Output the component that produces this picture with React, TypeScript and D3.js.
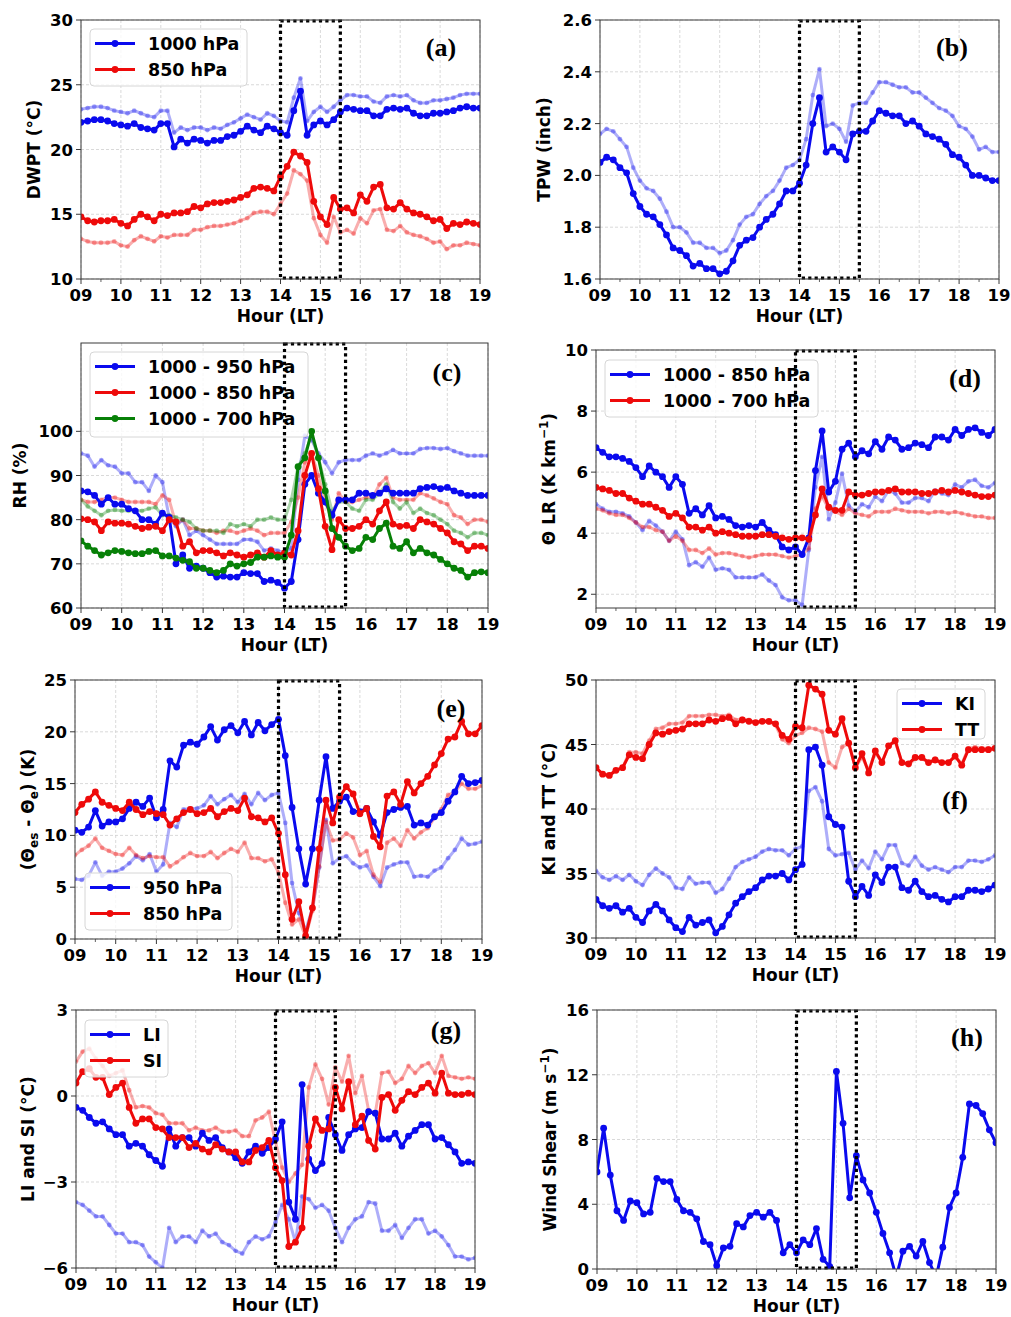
import React from 'react';
import * as d3 from 'd3';

const FONT = '"DejaVu Sans", Verdana, sans-serif';
const SERIF = '"Liberation Serif", "Times New Roman", serif';
const BLUE = '#0a0aee';
const RED = '#ee0a0a';
const GREEN = '#078007';

// time axis: 09:00 .. 19:00 every 10 minutes
const hours = d3.range(61).map(i => 9 + i / 6);
const hourTicks = [9, 10, 11, 12, 13, 14, 15, 16, 17, 18, 19];
const halfTicks = [9.5, 10.5, 11.5, 12.5, 13.5, 14.5, 15.5, 16.5, 17.5, 18.5];

// (a) DWPT
const dwpt1000 = [22.1,22.2,22.3,22.3,22.2,22.0, 21.9,21.8,22.0,21.7,21.6,21.5, 22.0,22.0,20.2,20.8,20.5,20.8, 20.7,20.5,20.7,20.7,21.0,21.1, 21.4,21.8,21.5,21.3,21.8,21.6, 21.3,21.1,23.0,24.5,21.1,21.9, 22.2,21.9,22.3,22.9,23.2,23.1, 23.0,23.0,22.6,22.6,23.1,23.2, 23.1,23.2,22.8,22.6,22.6,22.8, 22.8,22.9,23.0,23.2,23.3,23.2, 23.2];
const dwpt1000F = [23.1,23.2,23.3,23.3,23.2,23.0, 22.9,22.8,23.0,22.8,22.6,22.5, 23.0,23.0,21.3,21.7,21.5,21.7, 21.7,21.5,21.7,21.6,21.9,22.1, 22.4,22.7,22.5,22.3,22.8,22.6, 22.2,22.1,24.0,25.5,22.2,22.9, 23.3,22.9,23.3,23.8,24.2,24.2, 24.1,24.1,23.7,23.6,24.1,24.2, 24.1,24.2,23.8,23.6,23.6,23.8, 23.8,23.9,24.0,24.2,24.3,24.3, 24.3];
const dwpt850 = [14.8,14.5,14.4,14.5,14.5,14.6, 14.3,14.1,14.6,15.0,14.8,14.5, 15.0,14.9,15.1,15.1,15.2,15.6, 15.5,15.8,15.9,15.9,16.0,16.1, 16.3,16.5,17.0,17.1,17.0,16.8, 17.9,18.7,19.8,19.5,19.0,16.0, 14.8,14.2,16.3,15.4,15.5,15.1, 16.5,16.0,17.1,17.3,15.5,15.4, 15.9,15.4,15.1,15.0,14.8,14.5, 14.6,13.9,14.3,14.2,14.4,14.3, 14.2];
const dwpt850F = [13.1,12.9,12.8,12.8,12.8,12.9, 12.6,12.5,13.0,13.3,13.1,12.9, 13.3,13.2,13.4,13.4,13.4,13.8, 13.8,14.0,14.1,14.1,14.2,14.3, 14.5,14.7,15.1,15.2,15.2,15.0, 15.8,16.6,18.4,18.1,17.6,14.7, 13.4,12.8,14.8,13.6,13.8,13.5, 14.7,14.3,15.3,15.4,13.8,13.7, 14.1,13.6,13.4,13.3,13.1,12.8, 12.9,12.3,12.6,12.6,12.8,12.7, 12.6];

// (b) TPW
const tpw = [2.05,2.07,2.06,2.03,2.01,1.93, 1.88,1.85,1.84,1.81,1.77,1.72, 1.71,1.69,1.65,1.66,1.64,1.64, 1.62,1.63,1.67,1.73,1.75,1.76, 1.80,1.83,1.85,1.89,1.94,1.94, 1.97,2.04,2.20,2.30,2.09,2.11, 2.09,2.06,2.16,2.17,2.17,2.21, 2.25,2.24,2.23,2.23,2.20,2.21, 2.19,2.16,2.15,2.14,2.12,2.08, 2.07,2.04,2.00,2.00,1.99,1.98, 1.98];
const tpwF = [2.16,2.18,2.17,2.14,2.11,2.03, 1.98,1.95,1.94,1.91,1.86,1.80, 1.80,1.78,1.74,1.74,1.72,1.72, 1.70,1.71,1.75,1.81,1.84,1.85, 1.89,1.92,1.94,1.98,2.03,2.04, 2.06,2.14,2.31,2.41,2.19,2.20, 2.18,2.13,2.27,2.28,2.28,2.32, 2.36,2.36,2.35,2.34,2.34,2.32, 2.32,2.30,2.28,2.26,2.25,2.23, 2.19,2.18,2.15,2.10,2.11,2.09, 2.09];

// (c) RH
const rh950 = [86.5,86.3,85.5,83.5,85.0,83.5, 83.5,82.5,82.0,80.0,80.0,79.0, 81.5,80.5,70.0,72.0,69.0,69.5, 69.0,68.0,67.0,67.2,67.0,67.0, 68.0,67.8,67.8,66.0,66.3,65.8, 64.5,66.0,75.5,88.0,90.0,86.0, 84.0,81.0,84.5,84.5,84.5,86.0, 86.0,85.5,86.0,87.0,86.0,86.0, 86.0,86.0,87.0,87.3,87.5,87.0, 87.3,86.5,86.0,85.5,85.5,85.5, 85.5];
const rh850 = [80.2,80.0,79.5,77.5,79.5,79.2, 79.2,79.0,78.5,78.0,78.3,78.5, 77.5,80.0,79.5,74.0,75.0,72.5, 73.0,73.0,72.5,71.8,72.5,72.0, 71.5,72.0,72.5,71.5,73.0,72.0, 72.5,72.0,77.5,90.0,95.0,87.0, 78.5,73.2,80.0,78.0,78.0,78.5, 80.0,79.0,82.0,84.0,79.0,78.5, 78.7,78.0,80.0,79.5,79.0,78.0, 77.0,75.0,74.5,73.0,74.0,74.0, 73.5];
const rh700 = [75.2,74.0,73.0,72.0,72.5,73.0, 72.8,72.5,72.3,72.3,72.8,73.0, 71.8,71.8,71.3,70.8,70.5,69.0, 69.0,68.5,68.0,68.5,70.0,69.5, 70.0,70.3,71.5,71.5,71.8,71.5, 71.5,76.5,92.0,94.0,100.0,94.0, 86.5,78.0,76.0,74.0,73.0,73.5, 76.0,75.5,78.0,79.2,74.0,73.5, 75.0,72.5,73.5,72.5,72.0,71.0, 70.0,69.0,68.5,67.0,68.0,68.2, 68.0];
const rh950F = [95.0,94.5,92.0,93.5,92.3,92.0, 90.5,90.5,88.5,88.5,86.5,90.0, 88.5,80.5,78.5,80.0,76.5,77.5, 76.5,75.5,74.5,74.5,74.5,74.5, 75.5,75.5,75.0,73.0,73.5,73.0, 72.5,73.5,89.0,99.0,98.0,95.0, 93.0,90.5,93.0,93.5,93.5,93.5, 94.5,95.0,94.5,95.0,95.8,95.0, 95.0,95.0,96.0,96.2,96.2,96.0, 96.2,95.5,95.0,94.5,94.5,94.5, 94.5];
const rh850F = [84.5,84.0,84.0,84.5,85.0,85.0, 84.5,84.0,84.0,84.0,84.0,83.5, 85.5,84.5,79.0,80.0,78.0,78.0, 77.5,77.5,77.0,77.5,77.5,77.0, 77.5,78.0,77.5,76.5,77.0,77.0, 77.0,79.5,85.0,93.0,95.0,90.0, 84.0,80.0,86.0,84.0,84.0,84.5, 85.0,85.0,88.0,89.5,85.0,84.5, 84.5,84.5,86.0,85.5,84.8,84.0, 83.5,81.0,80.5,79.0,80.0,80.0, 79.5];
const rh700F = [84.5,83.0,82.0,81.0,82.0,82.2, 82.0,82.0,82.0,82.0,82.5,82.8, 81.0,81.0,80.5,80.0,79.5,78.0, 77.5,77.5,77.5,77.0,79.0,78.5, 79.0,78.5,80.0,80.0,80.5,80.0, 80.0,84.5,92.0,95.0,99.0,94.0, 88.0,82.0,84.0,84.0,82.5,82.0, 84.5,84.5,86.0,88.0,84.0,82.5, 84.0,81.5,82.5,81.5,81.0,80.0, 79.0,77.5,77.0,76.0,77.0,77.0, 76.5];

// (d) theta lapse rate
const lr850 = [6.8,6.65,6.5,6.5,6.45,6.35, 6.15,5.85,6.2,6.0,5.85,5.5, 5.85,5.6,4.65,4.8,4.6,4.9, 4.5,4.55,4.45,4.25,4.2,4.25, 4.2,4.35,4.1,3.95,3.55,3.45, 3.55,3.3,3.85,6.05,7.35,5.35, 5.7,6.75,6.95,6.5,6.7,6.6, 7.0,6.75,7.15,7.05,6.75,6.8, 6.95,6.9,6.8,7.15,7.15,7.05, 7.4,7.2,7.4,7.45,7.3,7.2, 7.4];
const lr700 = [5.5,5.45,5.4,5.3,5.3,5.15, 5.05,4.95,4.95,4.85,4.75,4.55, 4.65,4.5,4.2,4.2,4.1,4.2, 4.0,4.05,4.0,3.95,3.9,3.9, 3.9,3.95,3.95,3.9,3.85,3.8, 3.85,3.85,3.8,4.6,5.45,4.85, 4.75,4.75,5.35,5.25,5.25,5.3, 5.35,5.35,5.4,5.45,5.35,5.35, 5.35,5.3,5.3,5.35,5.4,5.35, 5.4,5.35,5.3,5.25,5.2,5.2, 5.25];
const lr850F = [4.95,4.8,4.7,4.7,4.65,4.55, 4.35,4.1,4.4,4.25,4.05,3.75, 4.05,3.8,2.95,3.05,2.9,3.2, 2.8,2.85,2.8,2.55,2.55,2.55, 2.55,2.65,2.45,2.3,1.9,1.8, 1.8,1.65,3.45,5.5,6.5,4.45, 5.0,5.95,4.9,4.7,4.95,4.85, 5.2,5.05,5.4,5.3,5.0,5.0, 5.15,5.15,5.05,5.4,5.3,5.25, 5.6,5.5,5.7,5.75,5.55,5.5, 5.65];
const lr700F = [4.8,4.75,4.65,4.6,4.6,4.5, 4.35,4.2,4.2,4.1,4.05,3.75, 3.9,3.75,3.45,3.45,3.35,3.5, 3.3,3.35,3.35,3.3,3.25,3.2, 3.25,3.3,3.3,3.3,3.25,3.2, 3.25,3.3,3.5,4.8,5.2,4.8, 4.7,4.6,4.8,4.65,4.6,4.55, 4.7,4.7,4.7,4.8,4.75,4.7, 4.7,4.7,4.65,4.7,4.7,4.65, 4.7,4.65,4.6,4.55,4.55,4.5, 4.5];

// (e) theta_es - theta_e
const dt950 = [10.5,10.3,10.8,12.4,10.9,11.3, 11.3,11.6,12.6,13.2,12.8,13.6, 11.7,12.5,17.2,16.6,18.7,19.0, 18.8,19.5,20.5,19.2,20.2,20.6, 19.9,21.0,19.7,20.9,20.1,20.7, 21.2,17.7,12.7,8.7,5.3,8.7, 13.4,17.6,12.6,13.3,13.7,12.3, 12.3,12.6,11.3,10.0,12.2,12.5, 12.7,12.8,11.0,11.2,11.0,11.8, 12.2,13.3,14.2,15.7,15.0,15.1, 15.3];
const dt850 = [12.2,13.0,13.5,14.2,13.2,12.9, 12.6,12.4,13.2,12.5,12.0,12.3, 12.1,12.0,11.0,11.6,12.2,12.5, 12.1,12.2,12.6,11.8,12.3,12.6, 12.4,13.6,11.8,11.7,11.3,11.7, 10.2,6.2,1.9,3.6,0.3,3.0, 8.7,13.4,11.2,13.7,14.7,14.0, 12.1,12.6,9.9,8.9,13.8,14.2, 13.0,15.2,14.1,15.0,15.7,16.8, 17.9,19.3,19.5,21.0,19.8,19.8, 20.6];
const dt950F = [5.8,5.7,6.1,7.4,6.1,6.5, 6.5,6.8,7.3,8.0,7.6,8.2, 6.5,7.2,11.2,10.8,12.5,12.6, 12.6,12.9,13.8,13.0,13.5,13.9, 13.2,14.0,13.0,14.1,13.4,13.9, 14.1,11.2,5.4,2.5,0.8,3.0, 6.9,11.5,7.3,7.8,8.0,7.3, 6.9,7.1,6.0,5.1,6.9,7.2, 7.4,7.4,6.0,6.1,6.0,6.6, 6.9,7.8,8.6,9.7,9.1,9.2, 9.4];
const dt850F = [8.1,8.6,9.0,9.7,8.8,8.5, 8.2,8.1,8.8,8.1,7.8,8.0, 7.9,7.9,7.0,7.4,7.9,8.3, 8.0,8.0,8.4,7.8,8.3,8.7, 8.4,9.3,7.8,7.8,7.5,7.7, 6.4,3.5,1.4,1.9,0.2,2.7, 7.0,11.3,9.5,9.6,10.2,9.8, 8.1,8.5,6.2,5.5,9.3,9.7, 9.0,10.5,9.7,10.3,10.7,11.7, 12.5,13.9,14.2,15.0,14.5,14.5, 14.8];

// (f) KI and TT
const tt = [43.2,42.7,42.6,43.0,43.2,44.2, 44.0,43.9,45.0,45.9,45.8,46.0, 46.1,46.2,46.6,46.6,46.6,46.9, 46.8,47.0,47.1,46.6,46.9,46.8, 46.7,46.8,46.8,46.6,45.7,45.4, 46.4,46.3,49.6,49.3,48.9,46.1, 45.8,47.0,45.1,43.2,44.3,42.8, 44.5,43.6,44.9,45.3,43.6,43.5, 44.0,44.0,43.6,43.8,43.6,43.6, 44.1,43.4,44.6,44.6,44.6,44.6, 44.7];
const ttF = [43.2,42.7,42.6,43.0,43.2,44.4, 44.4,44.3,45.3,46.2,46.3,46.6, 46.6,46.7,47.2,47.2,47.2,47.3, 47.3,47.2,47.3,46.9,47.0,46.9, 46.7,46.8,46.7,46.5,45.4,45.1, 45.7,45.9,46.3,46.2,46.0,43.6, 43.2,44.8,45.1,43.2,44.0,43.0, 44.4,43.6,44.9,45.2,43.6,43.4, 43.9,43.9,43.6,43.9,43.6,43.6, 44.1,43.5,44.7,44.8,44.7,44.7, 44.7];
const ki = [33.0,32.5,32.3,32.5,32.0,32.3, 31.6,31.2,32.1,32.6,32.1,31.4, 30.8,30.5,31.6,31.0,31.2,31.4, 30.4,30.9,31.8,32.7,33.2,33.6, 33.9,34.5,34.8,34.8,35.0,34.5, 35.3,35.7,44.6,44.8,43.4,39.4, 38.8,38.6,34.4,33.2,34.0,33.3, 34.9,34.3,35.5,35.5,33.9,33.7, 34.4,33.6,33.2,33.3,33.0,32.8, 33.2,33.2,33.7,33.7,33.6,33.8, 34.1];
const kiF = [35.2,34.7,34.5,34.8,34.5,34.9, 34.4,34.1,34.9,35.4,35.0,34.7, 33.9,33.8,34.7,34.2,34.3,34.3, 33.5,33.8,34.6,35.5,35.9,36.1, 36.3,36.7,36.9,36.8,36.8,36.4, 36.9,37.1,41.4,41.7,40.6,36.9, 36.4,36.5,36.6,35.3,36.0,35.4, 36.7,36.1,37.2,37.2,35.8,35.6, 36.3,35.6,35.3,35.5,35.3,35.1, 35.5,35.5,36.0,36.0,35.9,36.1, 36.4];

// (g) LI and SI
const li = [-0.4,-0.5,-0.75,-0.95,-0.9,-1.15, -1.35,-1.35,-1.75,-1.65,-1.75,-2.05, -2.25,-2.45,-1.15,-1.75,-1.45,-1.45, -1.75,-1.3,-1.55,-1.45,-1.8,-1.95, -2.15,-2.35,-1.95,-1.75,-2.0,-1.8, -1.5,-0.9,-3.7,-4.3,0.4,-2.2, -2.6,-2.35,-0.75,-1.35,-1.9,-1.35, -1.15,-1.1,-0.55,-0.6,-1.5,-1.5, -1.3,-1.75,-1.4,-1.2,-1.0,-1.0, -1.5,-1.45,-1.7,-1.95,-2.35,-2.3, -2.35];
const si = [0.45,0.85,0.95,0.65,0.65,0.05, 0.3,0.45,-0.4,-0.95,-0.8,-0.8, -1.1,-1.15,-1.45,-1.45,-1.45,-1.8, -1.65,-1.85,-1.95,-1.7,-1.85,-1.95, -1.95,-2.3,-2.3,-1.9,-1.8,-1.55, -2.5,-2.95,-5.25,-5.1,-4.6,-1.75, -0.8,-1.2,-1.15,0.3,-0.45,0.5, -1.0,-0.7,-1.55,-1.85,-0.05,0.05, -0.5,-0.15,0.15,0.05,0.3,0.45, 0.1,0.8,0.1,0.05,0.05,0.1, 0.05];
const liF = [-3.7,-3.8,-4.0,-4.2,-4.2,-4.5, -4.8,-4.8,-5.1,-5.1,-5.2,-5.6, -5.8,-6.0,-4.6,-5.1,-4.9,-4.9, -5.1,-4.7,-4.9,-4.8,-5.1,-5.2, -5.4,-5.5,-5.1,-4.9,-5.0,-4.9, -4.4,-3.8,-4.3,-5.1,-3.5,-3.6, -3.9,-3.8,-4.0,-4.6,-5.1,-4.6, -4.3,-4.2,-3.7,-3.75,-4.7,-4.7, -4.5,-4.95,-4.6,-4.3,-4.3,-4.8, -4.7,-4.9,-5.2,-5.6,-5.6,-5.7, -5.65];
const siF = [1.2,1.55,1.65,1.3,1.05,0.7, 0.8,0.9,0.2,-0.4,-0.35,-0.4, -0.6,-0.65,-0.95,-0.95,-0.95,-1.2, -1.1,-1.2,-1.2,-1.1,-1.25,-1.25, -1.2,-1.4,-1.4,-0.85,-0.75,-0.55, -1.6,-2.5,-3.0,-2.7,-2.4,0.3, 1.1,0.6,-0.3,1.0,0.5,1.4, 0.1,0.7,-0.5,-0.6,0.8,0.85, 0.45,0.6,1.05,0.8,1.05,1.15, 0.8,1.4,0.7,0.65,0.6,0.65, 0.6];

// (h) wind shear
const shear = [6.0,8.7,5.8,3.6,3.0,4.2, 4.1,3.4,3.5,5.6,5.4,5.4, 4.3,3.6,3.5,3.1,1.7,1.5, 0.2,1.3,1.4,2.8,2.6,3.3, 3.5,3.2,3.5,3.0,1.0,1.5, 1.0,1.8,1.5,2.5,0.6,0.15, 12.2,9.0,4.4,7.0,5.5,4.7, 3.5,2.2,1.0,-0.5,1.1,1.4, 0.8,1.7,0.4,-0.5,1.35,3.8, 4.7,6.9,10.2,10.1,9.6,8.6, 7.8];

type Series = { data: number[]; color: string; faded?: boolean };
type Legend = { x: number; y: number; w: number; h: number; items: { label: string; color: string }[] };
type Cfg = {
  l: number; r: number; t: number; b: number;
  yDomain: [number, number]; yTicks: number[]; yFmt: (v: number) => string;
  ylabel: React.ReactNode; ylOff: number;
  series: Series[]; legend?: Legend;
  tag: string; tagX: number; tagY: number;
};

const fmtInt = d3.format('d');
const sub = (s: string) => [
  <tspan key={s + 'a'} dy={4} fontSize={12}>{s}</tspan>,
];

const panels: Cfg[] = [
  {
    l: 81, r: 480, t: 20, b: 279, yDomain: [10, 30], yTicks: [10, 15, 20, 25, 30], yFmt: fmtInt,
    ylabel: 'DWPT (°C)', ylOff: 41,
    series: [
      { data: dwpt1000F, color: BLUE, faded: true }, { data: dwpt850F, color: RED, faded: true },
      { data: dwpt1000, color: BLUE }, { data: dwpt850, color: RED },
    ],
    legend: { x: 90, y: 29, w: 157, h: 57, items: [{ label: '1000 hPa', color: BLUE }, { label: '850 hPa', color: RED }] },
    tag: '(a)', tagX: 441, tagY: 56,
  },
  {
    l: 600, r: 999, t: 20, b: 279, yDomain: [1.6, 2.6], yTicks: [1.6, 1.8, 2.0, 2.2, 2.4, 2.6], yFmt: d3.format('.1f'),
    ylabel: 'TPW (inch)', ylOff: 50,
    series: [{ data: tpwF, color: BLUE, faded: true }, { data: tpw, color: BLUE }],
    tag: '(b)', tagX: 952, tagY: 56,
  },
  {
    l: 81, r: 488, t: 343, b: 608, yDomain: [60, 120], yTicks: [60, 70, 80, 90, 100], yFmt: fmtInt,
    ylabel: 'RH (%)', ylOff: 55,
    series: [
      { data: rh950F, color: BLUE, faded: true }, { data: rh850F, color: RED, faded: true }, { data: rh700F, color: GREEN, faded: true },
      { data: rh950, color: BLUE }, { data: rh850, color: RED }, { data: rh700, color: GREEN },
    ],
    legend: { x: 90, y: 352, w: 218, h: 85, items: [{ label: '1000 - 950 hPa', color: BLUE }, { label: '1000 - 850 hPa', color: RED }, { label: '1000 - 700 hPa', color: GREEN }] },
    tag: '(c)', tagX: 447, tagY: 381,
  },
  {
    l: 596, r: 995, t: 350, b: 608, yDomain: [1.55, 10], yTicks: [2, 4, 6, 8, 10], yFmt: fmtInt,
    ylabel: 'ΘLR', ylOff: 41,
    series: [
      { data: lr850F, color: BLUE, faded: true }, { data: lr700F, color: RED, faded: true },
      { data: lr850, color: BLUE }, { data: lr700, color: RED },
    ],
    legend: { x: 605, y: 360, w: 213, h: 57, items: [{ label: '1000 - 850 hPa', color: BLUE }, { label: '1000 - 700 hPa', color: RED }] },
    tag: '(d)', tagX: 965, tagY: 387,
  },
  {
    l: 75, r: 482, t: 680, b: 939, yDomain: [0, 25], yTicks: [0, 5, 10, 15, 20, 25], yFmt: fmtInt,
    ylabel: 'DT', ylOff: 41,
    series: [
      { data: dt950F, color: BLUE, faded: true }, { data: dt850F, color: RED, faded: true },
      { data: dt950, color: BLUE }, { data: dt850, color: RED },
    ],
    legend: { x: 85, y: 873, w: 147, h: 57, items: [{ label: '950 hPa', color: BLUE }, { label: '850 hPa', color: RED }] },
    tag: '(e)', tagX: 451, tagY: 717,
  },
  {
    l: 596, r: 995, t: 680, b: 938, yDomain: [30, 50], yTicks: [30, 35, 40, 45, 50], yFmt: fmtInt,
    ylabel: 'KI and TT (°C)', ylOff: 41,
    series: [
      { data: kiF, color: BLUE, faded: true }, { data: ttF, color: RED, faded: true },
      { data: ki, color: BLUE }, { data: tt, color: RED },
    ],
    legend: { x: 897, y: 689, w: 88, h: 50, items: [{ label: 'KI', color: BLUE }, { label: 'TT', color: RED }] },
    tag: '(f)', tagX: 955, tagY: 809,
  },
  {
    l: 76, r: 475, t: 1010, b: 1268, yDomain: [-6, 3], yTicks: [-6, -3, 0, 3], yFmt: d3.format('d'),
    ylabel: 'LI and SI (°C)', ylOff: 42,
    series: [
      { data: liF, color: BLUE, faded: true }, { data: siF, color: RED, faded: true },
      { data: li, color: BLUE }, { data: si, color: RED },
    ],
    legend: { x: 85, y: 1020, w: 83, h: 57, items: [{ label: 'LI', color: BLUE }, { label: 'SI', color: RED }] },
    tag: '(g)', tagX: 446, tagY: 1039,
  },
  {
    l: 597, r: 996, t: 1010, b: 1269, yDomain: [0, 16], yTicks: [0, 4, 8, 12, 16], yFmt: fmtInt,
    ylabel: 'WS', ylOff: 41,
    series: [{ data: shear, color: BLUE }],
    tag: '(h)', tagX: 967, tagY: 1046,
  },
];

function YLabel({ kind }: { kind: React.ReactNode }) {
  if (kind === 'ΘLR') {
    return <>Θ LR (K km<tspan dy={-7} fontSize={12}>−1</tspan><tspan dy={7}>)</tspan></>;
  }
  if (kind === 'WS') {
    return <>Wind Shear (m s<tspan dy={-7} fontSize={12}>−1</tspan><tspan dy={7}>)</tspan></>;
  }
  if (kind === 'DT') {
    return <>(Θ<tspan dy={4} fontSize={12}>es</tspan><tspan dy={-4}> - Θ</tspan><tspan dy={4} fontSize={12}>e</tspan><tspan dy={-4}>) (K)</tspan></>;
  }
  return <>{kind}</>;
}

function Panel({ cfg, id }: { cfg: Cfg; id: number }) {
  const x = d3.scaleLinear().domain([9, 19]).range([cfg.l, cfg.r]);
  const y = d3.scaleLinear().domain(cfg.yDomain).range([cfg.b, cfg.t]);
  const line = d3.line<number>().x((_, i) => x(hours[i])).y(d => y(d));
  const clipId = `clip-${id}`;
  const cx = (cfg.l + cfg.r) / 2;
  const cy = (cfg.t + cfg.b) / 2;
  return (
    <g>
      <defs>
        <clipPath id={clipId}>
          <rect x={cfg.l} y={cfg.t} width={cfg.r - cfg.l} height={cfg.b - cfg.t} />
        </clipPath>
      </defs>
      {hourTicks.map(h => (
        <line key={'gx' + h} x1={x(h)} x2={x(h)} y1={cfg.t} y2={cfg.b} stroke="#cfcfcf" strokeWidth={0.8} strokeDasharray="3,2" />
      ))}
      {cfg.yTicks.map(v => (
        <line key={'gy' + v} x1={cfg.l} x2={cfg.r} y1={y(v)} y2={y(v)} stroke="#cfcfcf" strokeWidth={0.8} strokeDasharray="3,2" />
      ))}
      <g clipPath={`url(#${clipId})`}>
        {cfg.series.map((s, k) => (
          <g key={k}>
            <path d={line(s.data) || ''} fill="none" stroke={s.color} strokeOpacity={s.faded ? 0.33 : 1} strokeWidth={3} strokeLinejoin="round" />
            {s.data.map((v, i) => (
              <circle key={i} cx={x(hours[i])} cy={y(v)} r={s.faded ? 2.4 : 3.4} fill={s.color} fillOpacity={s.faded ? 0.33 : 1} />
            ))}
          </g>
        ))}
      </g>
      {cfg.legend && (
        <g>
          <rect x={cfg.legend.x} y={cfg.legend.y} width={cfg.legend.w} height={cfg.legend.h} rx={4} fill="#fff" fillOpacity={0.8} stroke="#d6d6d6" strokeWidth={1} />
          {cfg.legend.items.map((it, k) => {
            const ry = cfg.legend!.y + 14.5 + k * 26;
            return (
              <g key={k}>
                <line x1={cfg.legend!.x + 5} x2={cfg.legend!.x + 45} y1={ry} y2={ry} stroke={it.color} strokeWidth={3} />
                <circle cx={cfg.legend!.x + 25} cy={ry} r={3.4} fill={it.color} />
                <text x={cfg.legend!.x + 58} y={ry + 6.5} fontFamily={FONT} fontWeight="bold" fontSize={17.5} fill="#000">{it.label}</text>
              </g>
            );
          })}
        </g>
      )}
      <rect x={x(14)} y={cfg.t + 1} width={x(15.5) - x(14)} height={cfg.b - cfg.t - 2} fill="none" stroke="#000" strokeWidth={3.2} strokeDasharray="3.2,3.2" />
      <rect x={cfg.l} y={cfg.t} width={cfg.r - cfg.l} height={cfg.b - cfg.t} fill="none" stroke="#3a3a3a" strokeWidth={1} />
      {hourTicks.map(h => (
        <g key={'tx' + h}>
          <line x1={x(h)} x2={x(h)} y1={cfg.b} y2={cfg.b + 5} stroke="#3a3a3a" strokeWidth={1} />
          <text x={x(h)} y={cfg.b + 22} textAnchor="middle" fontFamily={FONT} fontWeight="bold" fontSize={16.5} fill="#000">{d3.format('02d')(h)}</text>
        </g>
      ))}
      {halfTicks.map(h => (
        <line key={'mx' + h} x1={x(h)} x2={x(h)} y1={cfg.b} y2={cfg.b + 3} stroke="#3a3a3a" strokeWidth={0.8} />
      ))}
      {cfg.yTicks.map(v => (
        <g key={'ty' + v}>
          <line x1={cfg.l - 5} x2={cfg.l} y1={y(v)} y2={y(v)} stroke="#3a3a3a" strokeWidth={1} />
          <text x={cfg.l - 8} y={y(v) + 6} textAnchor="end" fontFamily={FONT} fontWeight="bold" fontSize={16.5} fill="#000">{cfg.yFmt(v)}</text>
        </g>
      ))}
      <text x={cx} y={cfg.b + 43} textAnchor="middle" fontFamily={FONT} fontWeight="bold" fontSize={17} fill="#000">Hour (LT)</text>
      <text transform={`translate(${cfg.l - cfg.ylOff},${cy}) rotate(-90)`} textAnchor="middle" fontFamily={FONT} fontWeight="bold" fontSize={17} fill="#000">
        <YLabel kind={cfg.ylabel} />
      </text>
      <text x={cfg.tagX} y={cfg.tagY} textAnchor="middle" fontFamily={SERIF} fontWeight="bold" fontSize={26} fill="#000">{cfg.tag}</text>
    </g>
  );
}

export default function App() {
  return (
    <div style={{ position: 'absolute', left: 0, top: 0, width: 1011, height: 1317, background: '#fff' }}>
      <svg width={1011} height={1317} viewBox="0 0 1011 1317" style={{ display: 'block' }}>
        <rect width={1011} height={1317} fill="#fff" />
        {panels.map((p, i) => <Panel key={i} cfg={p} id={i} />)}
      </svg>
    </div>
  );
}
